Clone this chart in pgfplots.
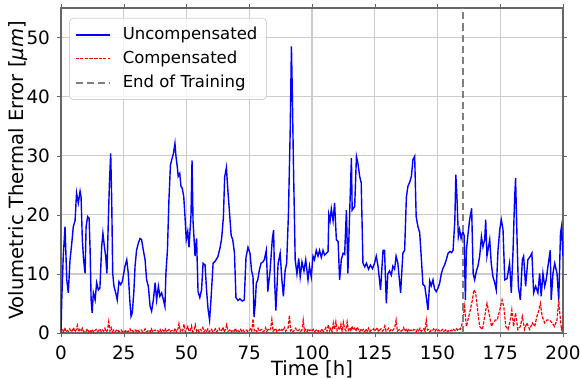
\documentclass[border=0pt]{standalone}
\usepackage{fontspec}
\setmainfont{DejaVu Sans}
\usepackage{pgfplots}
\pgfplotsset{compat=1.18}
\definecolor{mplblue}{rgb}{0,0,1}
\definecolor{mplred}{rgb}{1,0,0}
\begin{document}
\begin{tikzpicture}
\begin{axis}[
  width=251pt, height=162.5pt, scale only axis,
  xmin=0, xmax=200, ymin=0, ymax=55,
  xtick={0,25,...,200}, ytick={0,10,...,50},
  grid=major, grid style={gray!40, line width=0.6pt},
  axis line style={black!60, line width=0.7pt},
  tick style={black!60},
  tick align=outside, major tick length=2pt,
  ticklabel style={font=\fontsize{9.2}{10}\selectfont},
  xticklabel style={inner ysep=0.5pt, yshift=-3.6pt},
  /pgf/number format/assume math mode=true,
  xlabel={Time [h]},
  ylabel={Volumetric Thermal Error [\textit{μm}]},
  label style={font=\fontsize{9.8}{11}\selectfont, inner sep=0.5pt},
  ylabel style={at={(axis description cs:-0.086,0.5)}, anchor=center},
  xlabel style={at={(axis description cs:0.5,-0.112)}, anchor=center},
  legend style={at={(0.016,0.97)}, anchor=north west, font=\fontsize{8.25}{9.5}\selectfont,
    draw=gray!35, fill=white, fill opacity=0.8, text opacity=1, rounded corners=2pt,
    row sep=0.2pt, inner sep=2.5pt,
    /tikz/every odd column/.append style={column sep=4pt}},
  legend cell align=left,
]
\addplot[mplblue, line width=0.7pt] table {
0 0
0.3 5.6
0.9 13
1.6 18
2.3 9
2.9 6.8
3.6 12.4
4.3 15.2
4.9 18
5.6 19
6.2 23.7
6.9 22
7.6 24
8.0 23
8.5 15.8
9.0 12.4
9.6 10.1
10.0 18
10.6 19.7
11.2 19.4
11.6 14
12.0 5.6
12.4 3.4
12.9 6.8
13.6 5.6
14.2 8.5
14.9 7.3
15.5 7.6
16.2 14.6
16.7 16.9
17.3 14.6
17.8 13
18.3 10.1
18.9 19.7
19.3 25.4
19.8 30.4
20.2 22.5
20.6 10.1
21.1 7.9
21.8 6.8
22.4 5.6
23.1 8.7
23.8 8.2
24.4 8.7
25.0 10.1
25.5 11.3
26.2 12.4
26.8 10.1
27.4 5.6
27.9 2.8
28.4 3.4
29.0 6.8
29.5 11.3
30.1 14
30.8 15.2
31.5 16
32.1 15.8
32.8 14
33.5 12.4
34.1 9
34.8 7.9
35.5 4.5
36.1 3.7
36.8 5.6
37.5 8.5
38.1 5.6
38.8 7.9
39.4 6.2
40.1 6.8
40.8 5.6
41.4 4.5
41.8 10.1
42.4 14
43.0 22.5
43.6 28.4
44.1 29.3
44.8 30.4
45.4 32.1
45.8 29.9
46.3 28.2
46.7 26.5
47.3 27
47.8 24.8
48.3 24.5
48.9 23.1
49.4 19.7
49.9 15.8
50.5 17.2
51.0 14.5
51.8 20
52.2 29.2
52.6 19
53.4 13
54.0 16
54.6 7
55.3 6
56.0 7.3
56.6 11.8
57.4 11.5
58.0 7.2
58.6 4
59.2 2.2
59.8 6
60.6 11.8
61.5 12.2
62.5 12.9
63.4 14.5
64.0 16
64.7 19.6
65.2 26.4
65.9 28
66.5 24
67.2 20
67.8 16.5
68.4 15.8
69.1 13.6
69.7 6
70.5 5.5
71.3 5.8
72.2 5.4
73.0 5.6
73.7 12.8
74.5 14.5
75.3 13.5
75.9 10.6
76.5 9.5
76.9 2.7
77.4 5
77.8 8.4
78.4 9
79.0 10.6
79.7 11.8
80.4 12
81.0 12.4
81.8 14
82.4 7
83.3 10.6
84.2 16
84.7 17.4
85.1 9
85.6 3.8
86.5 11.8
87.3 13.5
88.0 9
88.6 6.2
89.3 10.6
89.9 11.8
90.6 20
91.3 34
91.8 48.5
92.1 42
92.6 28.7
93.3 12.4
94.0 10
94.7 12.6
95.3 9.5
96.0 12
96.8 10.5
97.5 12.4
98.4 9
99.0 11.3
99.7 9.5
100.4 13
101.0 12.4
101.7 14
102.4 13
103.0 14
103.7 12.8
104.4 14
105.0 13.2
105.7 13.5
106.4 13.8
106.7 20
107.2 19
107.7 21
108.4 19
109.0 22
109.7 15.8
110.4 15.5
111.0 9
111.7 12.5
112.4 13.5
113.0 13.3
113.7 20.8
114.3 10.1
115.0 20.3
115.7 29.6
116.0 20.8
117.0 21.4
117.7 29.9
118.3 28.7
119.0 26.5
119.6 25.4
120.3 11.8
121.0 11.2
121.7 11.8
122.5 10.8
123.3 11.5
124.1 10.9
124.9 11.8
125.6 13
126.3 11.3
127.3 7.3
128.3 14
128.9 14
129.6 5
130.2 10
130.9 10.5
131.6 9.8
132.2 11.3
132.9 10.8
133.5 13
134.2 11.8
135.3 6.8
136.2 13.5
136.9 14
137.6 23
138.2 24.8
138.9 25.5
139.6 26.5
140.2 29.3
140.9 29.9
141.5 19.7
142.2 18
142.9 17
143.5 13
144.2 8.2
144.9 8
145.5 6.2
146.2 3.9
146.9 8.8
147.5 8
148.2 9
148.8 7.5
149.5 7
150.2 7.6
150.9 8.5
151.5 10
152.2 11
152.8 11.5
153.5 12.4
154.2 13.5
155.0 13.8
155.6 13.6
156.2 14
156.9 19
157.3 26.8
157.8 22.5
158.3 16.3
158.8 17.5
159.4 16
160.1 17.2
160.6 16.5
161.1 5.6
161.5 14
162.2 16.9
162.8 19.2
163.6 21.1
164.2 10.1
164.8 9
165.5 10.5
166.1 11.3
166.8 13
167.5 16.3
168.1 14.6
168.8 15.8
169.2 19.2
169.7 13
170.3 14.5
170.8 15.8
171.4 11.8
172.1 9.5
172.8 8.5
173.4 7.3
174.1 14
174.8 17.5
175.4 19.2
176.1 17.5
176.8 9
177.7 9.2
178.7 11.8
179.4 6.8
180.1 14
180.7 22.5
181.1 26.2
181.7 15.8
182.2 7.9
183.0 5.6
183.8 12.4
184.3 13
185.1 7.9
186.0 12.4
187.0 13
187.6 13.5
188.3 6.8
189.1 7.9
190.0 6.8
190.7 10.1
191.3 6.2
192.0 10.1
192.7 7.9
193.3 9
194.0 11.3
194.9 14
195.3 5.6
196.0 10.1
196.7 11.8
197.6 10.1
198.3 5.6
199.0 16.9
199.4 18
200.0 13
};
\addlegendentry{Uncompensated}
\addplot[mplred, line width=0.6pt, dash pattern=on 1.6pt off 0.7pt] table {
0 0.1
0.5 0.5
1 0.2
1.5 0.9
2 0.2
2.5 0.4
3 0.3
3.5 0.7
4 0.2
4.5 0.4
5 0.9
5.5 0.2
6 0.5
6.5 1.3
7 0.2
7.5 0.6
8 0.3
8.5 0.8
9 0.2
9.5 0.4
10 0.3
10.5 0.7
11 0.2
11.5 0.5
12 0.2
12.5 0.6
13 0.1
13.5 0.4
14 0.6
14.5 0.2
15 0.4
15.5 0.7
16 0.2
16.5 0.5
17 0.3
17.5 0.8
18 0.2
18.5 0.4
19 1.9
19.5 0.3
20 0.9
20.5 0.2
21 0.5
21.5 0.2
22 0.4
22.5 0.6
23 0.2
23.5 0.3
24 0.5
24.5 0.2
25 0.4
25.5 0.2
26 0.5
26.5 0.2
27 0.3
27.5 0.7
28 0.2
28.5 0.4
29 0.2
29.5 0.5
30 0.3
30.5 0.6
31 0.2
31.5 0.4
32 0.5
32.5 0.2
33 0.4
33.5 0.7
34 0.2
34.5 0.3
35 0.5
35.5 0.2
36 0.7
36.5 0.2
37 0.4
37.5 0.5
38 0.3
38.5 0.4
39 0.2
39.5 0.6
40 0.2
40.5 0.5
41 0.3
41.5 0.7
42 0.2
42.5 0.4
43 0.6
43.5 0.2
44 0.4
44.5 0.5
45 0.3
45.5 0.8
46 0.2
46.5 0.5
47 1.6
47.5 0.3
48 0.7
48.5 0.4
49 1.5
49.5 0.2
50 0.6
50.5 1.1
51 0.3
51.5 0.4
52 1.2
52.5 0.2
53 0.5
53.5 1.4
54 0.3
54.5 0.6
55 0.2
55.5 0.6
56 0.4
56.5 0.9
57 0.2
57.5 0.5
58 0.3
58.5 0.7
59 0.2
59.5 0.4
60 0.6
60.5 0.2
61 0.4
61.5 0.7
62 0.2
62.5 0.5
63 0.8
63.5 0.3
64 0.4
64.5 1.0
65 0.2
65.5 0.6
66 1.4
66.5 0.3
67 0.4
67.5 0.6
68 0.2
68.5 0.5
69 0.3
69.5 0.8
70 0.2
70.5 0.4
71 0.2
71.5 0.6
72 0.3
72.5 0.6
73 0.2
73.5 0.4
74 0.5
74.5 0.2
75 0.4
75.5 0.7
76 0.3
76.5 2.4
77 0.4
77.5 0.6
78 0.2
78.5 0.8
79 0.3
79.5 0.5
80 0.6
80.5 0.2
81 0.4
81.5 0.9
82 0.3
82.5 0.6
83 0.4
83.5 0.7
84 2.3
84.5 0.3
85 0.5
85.5 0.8
86 0.2
86.5 0.4
87 0.6
87.5 0.3
88 0.6
88.5 0.4
89 0.9
89.5 0.3
90 0.6
90.5 0.9
91 3.0
91.5 0.4
92 0.6
92.5 0.2
93 0.5
93.5 0.8
94 0.3
94.5 0.4
95 0.6
95.5 0.3
96 0.5
96.5 2.2
97 0.3
97.5 0.6
98 0.2
98.5 0.7
99 0.4
99.5 0.5
100 0.3
100.5 0.6
101 0.2
101.5 0.4
102 0.6
102.5 0.2
103 0.5
103.5 0.3
104 0.7
104.5 0.2
105 0.5
105.5 0.9
106 0.3
106.5 1.4
107 0.4
107.5 0.8
108 0.2
108.5 1.7
109 0.6
109.5 1.9
110 0.4
110.5 0.9
111 0.5
111.5 1.5
112 0.3
112.5 1.8
113 0.7
113.5 0.4
114 1.9
114.5 0.5
115 0.9
115.5 0.3
116 1.2
116.5 0.5
117 0.8
117.5 0.3
118 1.0
118.5 0.6
119 0.2
119.5 0.7
120 0.4
120.5 0.6
121 0.2
121.5 0.7
122 0.3
122.5 0.8
123 0.2
123.5 0.5
124 0.4
124.5 0.7
125 0.3
125.5 0.6
126 0.9
126.5 0.2
127 0.5
127.5 0.7
128 0.3
128.5 0.5
129 1.2
129.5 0.3
130 0.5
130.5 0.8
131 0.3
131.5 0.6
132 0.4
132.5 0.6
133 1.0
133.5 2.2
134 0.3
134.5 0.5
135 0.6
135.5 0.3
136 0.5
136.5 0.9
137 0.3
137.5 0.6
138 0.2
138.5 0.7
139 0.4
139.5 0.5
140 0.3
140.5 0.6
141 0.5
141.5 0.2
142 0.6
142.5 0.4
143 0.8
143.5 0.3
144 0.5
144.5 0.7
145 0.3
145.5 2.2
146 0.5
146.5 0.6
147 0.2
147.5 0.5
148 0.4
148.5 0.7
149 0.3
149.5 0.6
150 0.3
150.5 0.5
151 0.2
151.5 0.4
152 0.6
152.5 0.3
153 0.4
153.5 0.6
154 0.2
154.5 0.4
155 0.3
155.5 0.5
156 0.3
156.5 0.6
157 0.4
157.5 0.7
158 0.5
158.5 0.8
159 0.6
159.5 1.0
160.0 2.0
160.8 4.5
161.5 1.1
162.8 3.4
163.9 5.6
164.5 7.3
165.2 6.8
166.1 3.4
166.8 1.1
167.9 0.6
168.8 2.8
169.7 5.0
170.5 3.4
171.5 1.1
172.1 1.7
173.0 2.2
173.8 2.2
174.8 3.9
175.7 5.6
176.4 4.5
177.2 1.1
178.1 0.6
179.0 2.2
179.6 3.9
180.3 1.1
181.1 3.4
182.0 0.6
183.0 1.1
183.8 2.8
184.7 0.6
185.6 1.7
186.7 0.6
187.8 1.7
188.7 1.1
189.6 2.8
190.4 3.9
191.0 5.0
191.7 2.8
192.7 1.7
193.6 2.2
194.6 2.2
195.7 1.7
196.6 1.1
197.6 2.2
198.3 5.6
198.7 3.4
199.4 0.6
200.0 1.1
};
\addlegendentry{Compensated}
\addplot[gray, line width=1.1pt, dash pattern=on 3.6pt off 2pt] coordinates {(160,0) (160,55)};
\addlegendentry{End of Training}
\end{axis}
\pgfresetboundingbox
\path ([shift={(-30.5pt,-22.5pt)}]current axis.south west) rectangle ([shift={(8.5pt,4pt)}]current axis.north east);
\end{tikzpicture}
\end{document}
